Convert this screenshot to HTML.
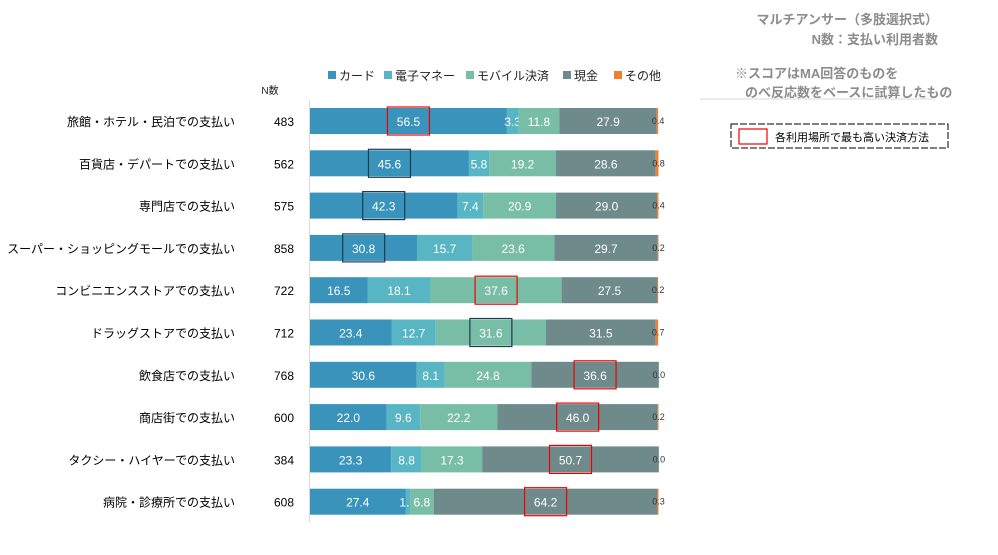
<!DOCTYPE html>
<html><head><meta charset="utf-8"><style>
body{margin:0;background:#fff;font-family:"Liberation Sans","Noto Sans CJK JP",sans-serif;}
svg text{font-family:"Liberation Sans","Noto Sans CJK JP",sans-serif;}
</style></head><body>
<svg id="chart" width="998" height="550" viewBox="0 0 998 550">
<text x="938" y="24" font-size="13" font-weight="bold" fill="#8c8c8c" text-anchor="end">マルチアンサー（多肢選択式）</text>
<text x="938" y="44" font-size="13" font-weight="bold" fill="#8c8c8c" text-anchor="end">N数：支払い利用者数</text>
<text x="735" y="78" font-size="13" font-weight="bold" fill="#8c8c8c">※スコアはMA回答のものを</text>
<text x="745" y="97" font-size="13" font-weight="bold" fill="#8c8c8c">のべ反応数をベースに試算したもの</text>
<line x1="700" y1="99" x2="935" y2="99" stroke="#d9d9d9"/>
<g>
<rect x="731" y="124" width="217" height="24" fill="#fff" stroke="#000" stroke-dasharray="7,2"/>
<rect x="739" y="129" width="28" height="15" fill="none" stroke="#e00" stroke-width="1.2"/>
<text x="775" y="141" font-size="11" fill="#000">各利用場所で最も高い決済方法</text>
</g>
<text x="270" y="94" font-size="10" fill="#222" text-anchor="middle">N数</text>
<g id="legend"></g>
<line x1="309.5" y1="100" x2="309.5" y2="522" stroke="#d9d9d9"/>
<g id="bars"></g>
</svg>
<script>
const categories=["旅館・ホテル・民泊での支払い","百貨店・デパートでの支払い","専門店での支払い","スーパー・ショッピングモールでの支払い","コンビニエンスストアでの支払い","ドラッグストアでの支払い","飲食店での支払い","商店街での支払い","タクシー・ハイヤーでの支払い","病院・診療所での支払い"];
const nValues=[483,562,575,858,722,712,768,600,384,608];
const seriesNames=["カード","電子マネー","モバイル決済","現金","その他"];
const card=[56.5,45.6,42.3,30.8,16.5,23.4,30.6,22.0,23.3,27.4];
const emoney=[3.3,5.8,7.4,15.7,18.1,12.7,8.1,9.6,8.8,1.3];
const mobile=[11.8,19.2,20.9,23.6,37.6,31.6,24.8,22.2,17.3,6.8];
const cash=[27.9,28.6,29.0,29.7,27.5,31.5,36.6,46.0,50.7,64.2];
const other=[0.4,0.8,0.4,0.2,0.2,0.7,0.0,0.2,0.0,0.3];
const highlightSeries=[0,0,0,0,2,2,3,3,3,3];
const highlightRed=[true,false,false,false,true,false,true,true,true,true];
const colors=["#3993bb","#58b5c3","#78bea6","#6f8a8b","#f0802e"];
const NS="http://www.w3.org/2000/svg";
const x0=310,x1=658.5;
const xs=v=>x0+(x1-x0)*v/100;
const ys=i=>108+i*42.3;
const bh=26;
function mk(t,a,p){const e=document.createElementNS(NS,t);for(const k in a)e.setAttribute(k,a[k]);p.appendChild(e);return e;}
const lg=document.getElementById('legend');
const lx=[328,384,466,563,614];
seriesNames.forEach((s,k)=>{
 const g=mk('g',{},lg);
 
 
 mk('rect',{x:lx[k],y:71,width:8,height:8,fill:colors[k]},g);
 const t=mk('text',{x:lx[k]+11,y:80,'font-size':12,fill:'#222'},g);t.textContent=s;
});
const bars=document.getElementById('bars');
const series=[card,emoney,mobile,cash,other];
categories.forEach((c,i)=>{
 const y=ys(i);
 const g=mk('g',{},bars);
 
 
 const tl=mk('text',{x:235,y:y+bh/2+5,'font-size':12,fill:'#000','text-anchor':'end'},g);
 
 
 tl.textContent=c;
 const tn=mk('text',{x:284,y:y+bh/2+5,'font-size':12,fill:'#000','text-anchor':'middle'},g);
 
 
 tn.textContent=nValues[i];
 let acc=0;
 series.forEach((arr,k)=>{
  const v=arr[i];const xa=xs(acc),xb=xs(acc+v);acc+=v;
  const r=mk('rect',{x:xa,y:y,width:Math.max(xb-xa,0),height:bh,fill:colors[k]},g);
  
  
  const t=mk('text',{'font-size':k==4?9:12,'text-anchor':'middle'},g);
  
  
  if(k==4){t.setAttribute('x',xb);t.setAttribute('y',y+bh/2+3);t.setAttribute('fill','#333');}
  else{t.setAttribute('x',(xa+xb)/2);t.setAttribute('y',y+bh/2+5);t.setAttribute('fill','#fff');}
  t.textContent=v.toFixed(1);
  if(highlightSeries[i]==k){
   const cx=(xa+xb)/2;
   const b=mk('rect',{x:cx-21,y:y-1,width:42,height:bh+2,fill:'none',stroke:highlightRed[i]?'#e00':'#1d3b4f','stroke-width':1.2},g);
   
   
  }
 });
});
</script>
</body></html>
